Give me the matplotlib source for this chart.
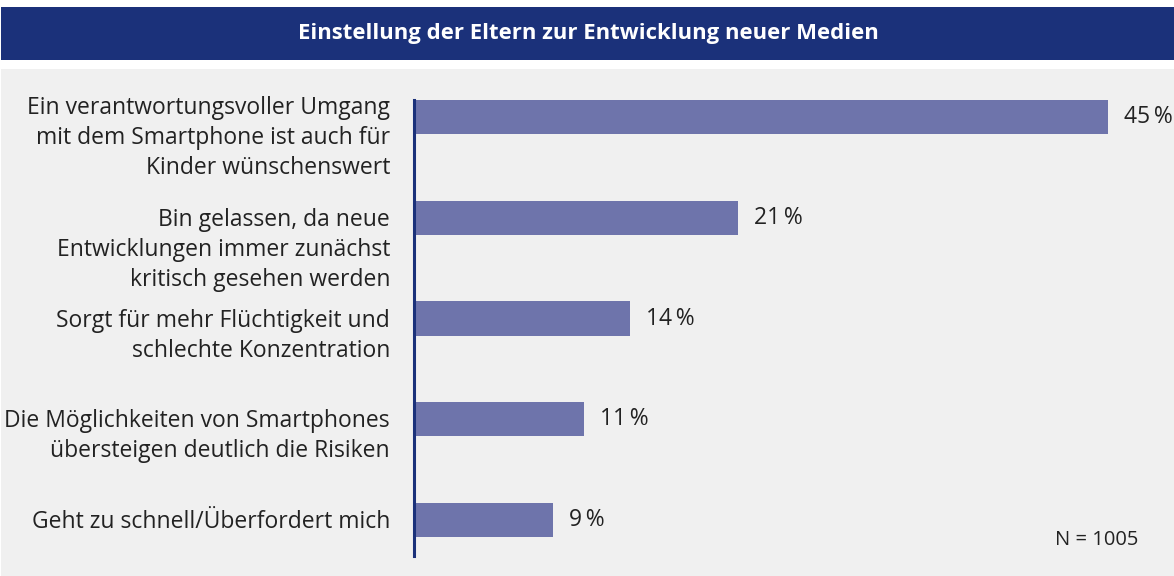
import matplotlib.pyplot as plt
from matplotlib.patches import Rectangle

labels = [
    "Ein verantwortungsvoller Umgang\nmit dem Smartphone ist auch für\nKinder wünschenswert",
    "Bin gelassen, da neue\nEntwicklungen immer zunächst\nkritisch gesehen werden",
    "Sorgt für mehr Flüchtigkeit und\nschlechte Konzentration",
    "Die Möglichkeiten von Smartphones\nübersteigen deutlich die Risiken",
    "Geht zu schnell/Überfordert mich",
]
values = [45, 21, 14, 11, 9]
title = "Einstellung der Eltern zur Entwicklung neuer Medien"
note = "N = 1005"

W, H = 1174, 576
bar_color = "#6e74ab"
navy = "#1b317a"
panel = "#f0f0f0"
text_color = "#222222"

plt.rcParams['font.family'] = ['Open Sans', 'DejaVu Sans']

fig = plt.figure(figsize=(W / 100, H / 100), dpi=100)
fig.patch.set_facecolor("white")

# title bar and grey panel (pixel coords from top)
fig.patches.append(Rectangle((1 / W, 1 - 60 / H), 1, 53 / H, transform=fig.transFigure,
                             facecolor=navy, edgecolor="none", zorder=-2))
fig.patches.append(Rectangle((1 / W, 0), 1, 1 - 69 / H, transform=fig.transFigure,
                             facecolor=panel, edgecolor="none", zorder=-2))
fig.text(588 / W, 1 - 34 / H, title, color="white", fontsize=15.9, fontweight="bold",
         ha="center", va="center")

# axes: x 414..1154 px, y 100..556 px
left, right = 414, 1154
top, bottom = 100, 556
ax = fig.add_axes([left / W, 1 - bottom / H, (right - left) / W, (bottom - top) / H])
ax.set_facecolor("none")

pos = list(range(len(values)))
ax.barh(pos, values, height=0.34, color=bar_color, zorder=2)
ax.set_xlim(0, 48)
ax.set_ylim(4.357, -0.17)

for spine in ["top", "right", "bottom"]:
    ax.spines[spine].set_visible(False)
ax.spines["left"].set_color(navy)
ax.spines["left"].set_linewidth(2.2)
ax.set_xticks([])
ax.set_yticks([])

for p, v, lab in zip(pos, values, labels):
    ax.annotate(f"{v}\u2009%", xy=(v, p), xytext=(16, 0), textcoords="offset pixels",
                va="center", ha="left", fontsize=16.5, color=text_color)
    # first line of the label sits on the bar centre (first one pushed up a bit)
    dy = 10 if p > 0 else 21
    ax.annotate(lab, xy=(0, p), xytext=(-24, dy), textcoords="offset pixels",
                ha="right", va="top", fontsize=16.5, color=text_color, linespacing=1.33)

fig.text(1138 / W, 1 - 540 / H, note, ha="right", va="center", fontsize=14.5, color=text_color)

fig.savefig("out.png", dpi=100, facecolor=fig.get_facecolor())
